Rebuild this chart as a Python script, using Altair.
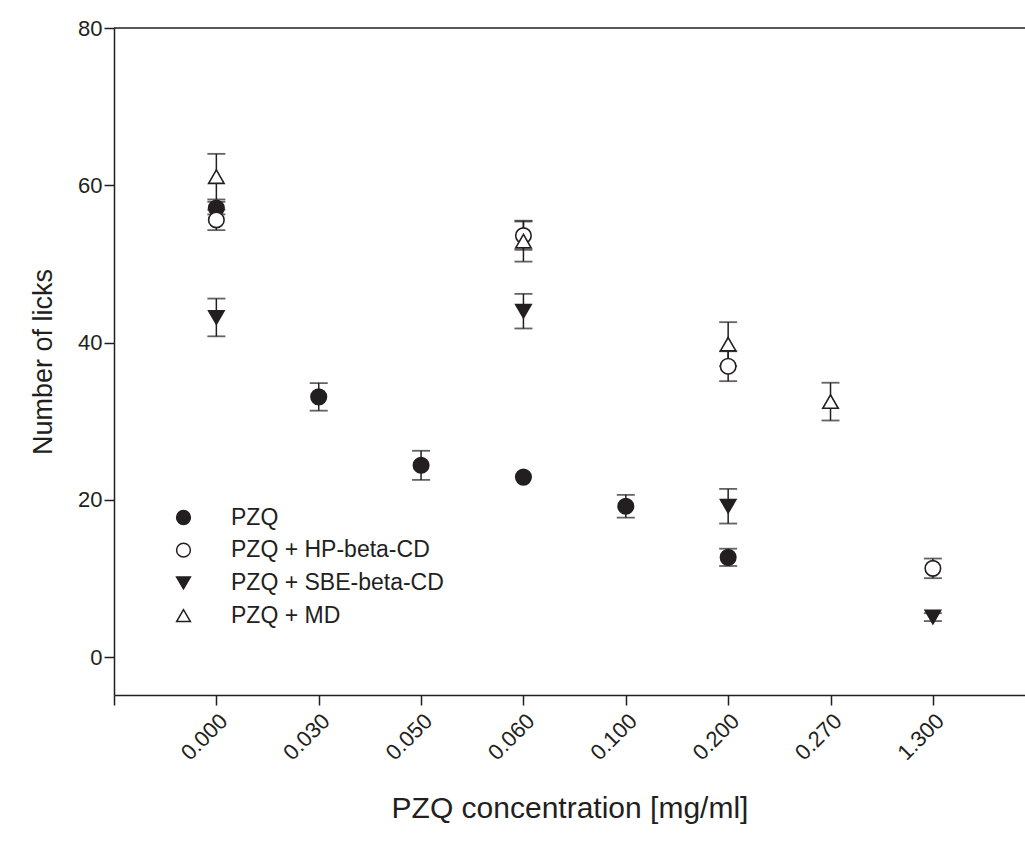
import json
import altair as alt
import pandas as pd

conc_labels = ["0.000", "0.030", "0.050", "0.060", "0.100", "0.200", "0.270", "1.300"]
series_names = ["PZQ", "PZQ + HP-beta-CD", "PZQ + SBE-beta-CD", "PZQ + MD"]

pzq_conc = ["0.000", "0.030", "0.050", "0.060", "0.100", "0.200"]
pzq_mean = [57.1, 33.1, 24.4, 22.9, 19.2, 12.7]
pzq_err = [0.8, 1.75, 1.85, 0.0, 1.45, 1.1]

hp_conc = ["0.000", "0.060", "0.200", "1.300"]
hp_mean = [55.6, 53.6, 37.0, 11.3]
hp_err = [1.3, 1.8, 1.9, 1.25]

sbe_conc = ["0.000", "0.060", "0.200", "1.300"]
sbe_mean = [43.2, 44.0, 19.2, 5.1]
sbe_err = [2.4, 2.2, 2.2, 0.5]

md_conc = ["0.000", "0.060", "0.200", "0.270"]
md_mean = [61.1, 52.9, 39.8, 32.5]
md_err = [2.9, 2.6, 2.8, 2.4]

rows = []
for name, cs, ms, es in [
    (series_names[0], pzq_conc, pzq_mean, pzq_err),
    (series_names[1], hp_conc, hp_mean, hp_err),
    (series_names[2], sbe_conc, sbe_mean, sbe_err),
    (series_names[3], md_conc, md_mean, md_err),
]:
    for c, m, e in zip(cs, ms, es):
        rows.append({"series": name, "pos": conc_labels.index(c) + 1,
                     "mean": m, "lo": m - e, "hi": m + e})
df = pd.DataFrame(rows)

INK = "#231f20"
FONT = "Liberation Sans"

x_enc = alt.X("pos:Q",
              scale=alt.Scale(domain=[0, 8.9], nice=False, zero=False),
              axis=alt.Axis(values=list(range(0, 9)),
                            labelExpr="datum.value < 1 ? '' : " + json.dumps(conc_labels) + "[datum.value - 1]",
                            labelAngle=-45, labelFontSize=22, labelPadding=5,
                            tickSize=10, titleFontSize=30, titlePadding=30),
              title="PZQ concentration [mg/ml]")
y_scale = alt.Scale(domain=[-4.8, 80], nice=False, zero=False)
y_axis = alt.Axis(values=[0, 20, 40, 60, 80], labelFontSize=22, tickSize=10,
                  labelPadding=2, titleFontSize=27, titlePadding=20)

base = alt.Chart(df)
err = base.transform_filter("datum.hi > datum.lo")

rules = err.mark_rule(color=INK, strokeWidth=1.5).encode(
    x=x_enc,
    y=alt.Y("lo:Q", scale=y_scale, axis=y_axis, title="Number of licks"),
    y2="hi:Q",
)
cap_lo = err.mark_tick(color=INK, orient="horizontal", size=18, thickness=1.8).encode(
    x="pos:Q", y="lo:Q")
cap_hi = err.mark_tick(color=INK, orient="horizontal", size=18, thickness=1.8).encode(
    x="pos:Q", y="hi:Q")

points = base.mark_point(size=240, strokeWidth=1.6, opacity=1, filled=False).encode(
    x="pos:Q",
    y="mean:Q",
    shape=alt.Shape("series:N", scale=alt.Scale(domain=series_names,
                    range=["circle", "circle", "triangle-down", "triangle-up"]), title=None),
    fill=alt.Fill("series:N", scale=alt.Scale(domain=series_names,
                  range=[INK, "white", INK, "white"]), title=None),
    stroke=alt.Stroke("series:N", scale=alt.Scale(domain=series_names,
                      range=[INK, INK, INK, INK]), title=None),
)

top_line = alt.Chart(pd.DataFrame({"v": [80]})).mark_rule(color=INK, strokeWidth=1.5).encode(
    y=alt.Y("v:Q"))

chart = alt.layer(rules, cap_lo, cap_hi, top_line, points).properties(
    width=911, height=667,
    autosize=alt.AutoSizeParams(type="none"),
    padding={"left": 114, "top": 28, "right": 0, "bottom": 146},
).configure_view(stroke=None).configure_axis(
    grid=False, domainColor=INK, domainWidth=1.5, tickColor=INK, tickWidth=1.5,
    labelColor=INK, titleColor=INK, labelFont=FONT, titleFont=FONT,
    titleFontWeight="normal",
).configure_legend(
    orient="none", legendX=58, legendY=478, padding=0,
    labelFont=FONT, labelFontSize=23, labelColor=INK, labelOffset=36, labelLimit=400,
    symbolSize=190, symbolStrokeWidth=1.5,
    rowPadding=8.7, symbolOpacity=1,
)

chart.save("out.html", embed_options={"renderer": "svg", "actions": False})
